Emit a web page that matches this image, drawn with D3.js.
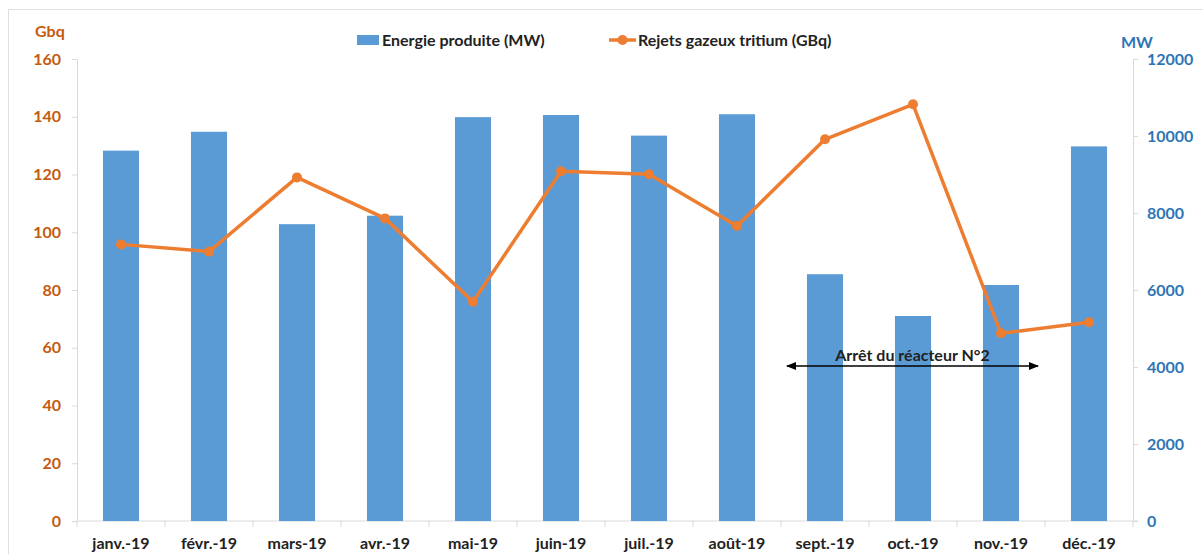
<!DOCTYPE html>
<html><head><meta charset="utf-8">
<script src="https://cdn.jsdelivr.net/npm/d3@7"></script>
<style>
body{margin:0;background:#fff;}
text{font-family:Lato,"Open Sans",sans-serif;font-weight:bold;}
</style></head>
<body><svg id="c" width="1203" height="554"></svg>
<script>
const categories = ["janv.-19","févr.-19","mars-19","avr.-19","mai-19","juin-19","juil.-19","août-19","sept.-19","oct.-19","nov.-19","déc.-19"];
const energyMW = [9620,10110,7710,7930,10490,10545,10010,10565,6410,5325,6130,9730];
const tritiumGBq = [95.8,93.3,119.0,104.8,75.9,121.1,120.1,102.2,132.2,144.3,65.0,68.8];
const leftTicks = [0,20,40,60,80,100,120,140,160];
const rightTicks = [0,2000,4000,6000,8000,10000,12000];
const seriesNames = ["Energie produite (MW)","Rejets gazeux tritium (GBq)"];
const annotationText = "Arrêt du réacteur N°2";
const annotationSpan = ["sept.-19","nov.-19"];

const svg = d3.select("#c");
const L=77, R=1133, T=59, B=521;
const orange="#C55A11", blue="#2E75B6", barColor="#5B9BD5", lineColor="#ED7D31", grid="#D9D9D9";
const fs = "16px";

svg.append("rect").attr("x",8.5).attr("y",9.5).attr("width",1300).attr("height",560).attr("fill","none").attr("stroke","#E0E0E0");

const x = d3.scaleBand().domain(categories).range([L,R]).paddingInner(0.59).paddingOuter(0.295);
const xc = d3.scalePoint().domain(categories).range([L,R]).padding(0.5);
const yL = d3.scaleLinear().domain([0,160]).range([B,T]);
const yR = d3.scaleLinear().domain([0,12000]).range([B,T]);

// left axis
const gl = svg.append("g").attr("transform",`translate(${L},0)`)
  .call(d3.axisLeft(yL).tickValues(leftTicks).tickSize(5).tickPadding(11));
gl.select(".domain").attr("stroke",grid);
gl.selectAll(".tick line").attr("stroke",grid);
gl.selectAll(".tick text").attr("fill",orange).style("font-size",fs).style("font-family","Lato, sans-serif").style("font-weight","bold");

// right axis
const gr = svg.append("g").attr("transform",`translate(${R},0)`)
  .call(d3.axisRight(yR).tickValues(rightTicks).tickFormat(d3.format("d")).tickSize(5).tickPadding(9));
gr.select(".domain").attr("stroke",grid);
gr.selectAll(".tick line").attr("stroke",grid);
gr.selectAll(".tick text").attr("fill",blue).style("font-size",fs).style("font-family","Lato, sans-serif").style("font-weight","bold");

// x axis
const step = (R-L)/categories.length;
const gx = svg.append("g").attr("transform",`translate(0,${B})`);
gx.append("line").attr("x1",L).attr("x2",R+5).attr("stroke",grid);
gx.selectAll("line.tk").data(d3.range(categories.length+1)).enter().append("line").attr("class","tk")
  .attr("x1",i=>L+i*step).attr("x2",i=>L+i*step).attr("y1",0).attr("y2",6).attr("stroke",grid);
gx.selectAll("text").data(categories).enter().append("text")
  .attr("x",d=>xc(d)).attr("y",28).attr("text-anchor","middle").attr("fill","#222")
  .style("font-size",fs).text(d=>d);

// bars
svg.append("g").selectAll("rect").data(categories).enter().append("rect")
  .attr("x",d=>x(d)).attr("width",x.bandwidth())
  .attr("y",(d,i)=>yR(energyMW[i])).attr("height",(d,i)=>B-yR(energyMW[i]))
  .attr("fill",barColor);

// line
const line = d3.line().x((d,i)=>xc(categories[i])).y(d=>yL(d));
svg.append("path").datum(tritiumGBq).attr("d",line).attr("fill","none")
  .attr("stroke",lineColor).attr("stroke-width",3.5).attr("stroke-linejoin","round");
svg.append("g").selectAll("circle").data(tritiumGBq).enter().append("circle")
  .attr("cx",(d,i)=>xc(categories[i])).attr("cy",d=>yL(d)).attr("r",5).attr("fill",lineColor);

// axis titles
svg.append("text").attr("x",35).attr("y",37).attr("fill",orange).style("font-size",fs).text("Gbq");
svg.append("text").attr("x",1121).attr("y",48).attr("fill",blue).style("font-size",fs).text("MW");

// legend
const lg = svg.append("g");
lg.append("rect").attr("x",357).attr("y",35).attr("width",22).attr("height",10).attr("fill",barColor);
lg.append("text").attr("x",382).attr("y",46).attr("fill","#222").style("font-size",fs).text(seriesNames[0]);
lg.append("line").attr("x1",609).attr("x2",636).attr("y1",40).attr("y2",40).attr("stroke",lineColor).attr("stroke-width",3.5);
lg.append("circle").attr("cx",622.5).attr("cy",40).attr("r",5).attr("fill",lineColor);
lg.append("text").attr("x",638).attr("y",46).attr("fill","#222").style("font-size",fs).text(seriesNames[1]);

// annotation
const ax1 = xc(annotationSpan[0]) - 38, ax2 = xc(annotationSpan[1]) + 37, ay = 366;
svg.append("defs").html(`<marker id="ah" viewBox="0 0 10 10" refX="9" refY="5" markerWidth="7" markerHeight="7" orient="auto-start-reverse"><path d="M0,1 L10,5 L0,9 z" fill="#000"/></marker>`);
svg.append("line").attr("x1",ax1).attr("x2",ax2).attr("y1",ay).attr("y2",ay).attr("stroke","#000").attr("stroke-width",1.5)
  .attr("marker-start","url(#ah)").attr("marker-end","url(#ah)");
svg.append("text").attr("x",(ax1+ax2)/2).attr("y",361).attr("text-anchor","middle").attr("fill","#222").style("font-size",fs).text(annotationText);
</script></body></html>
